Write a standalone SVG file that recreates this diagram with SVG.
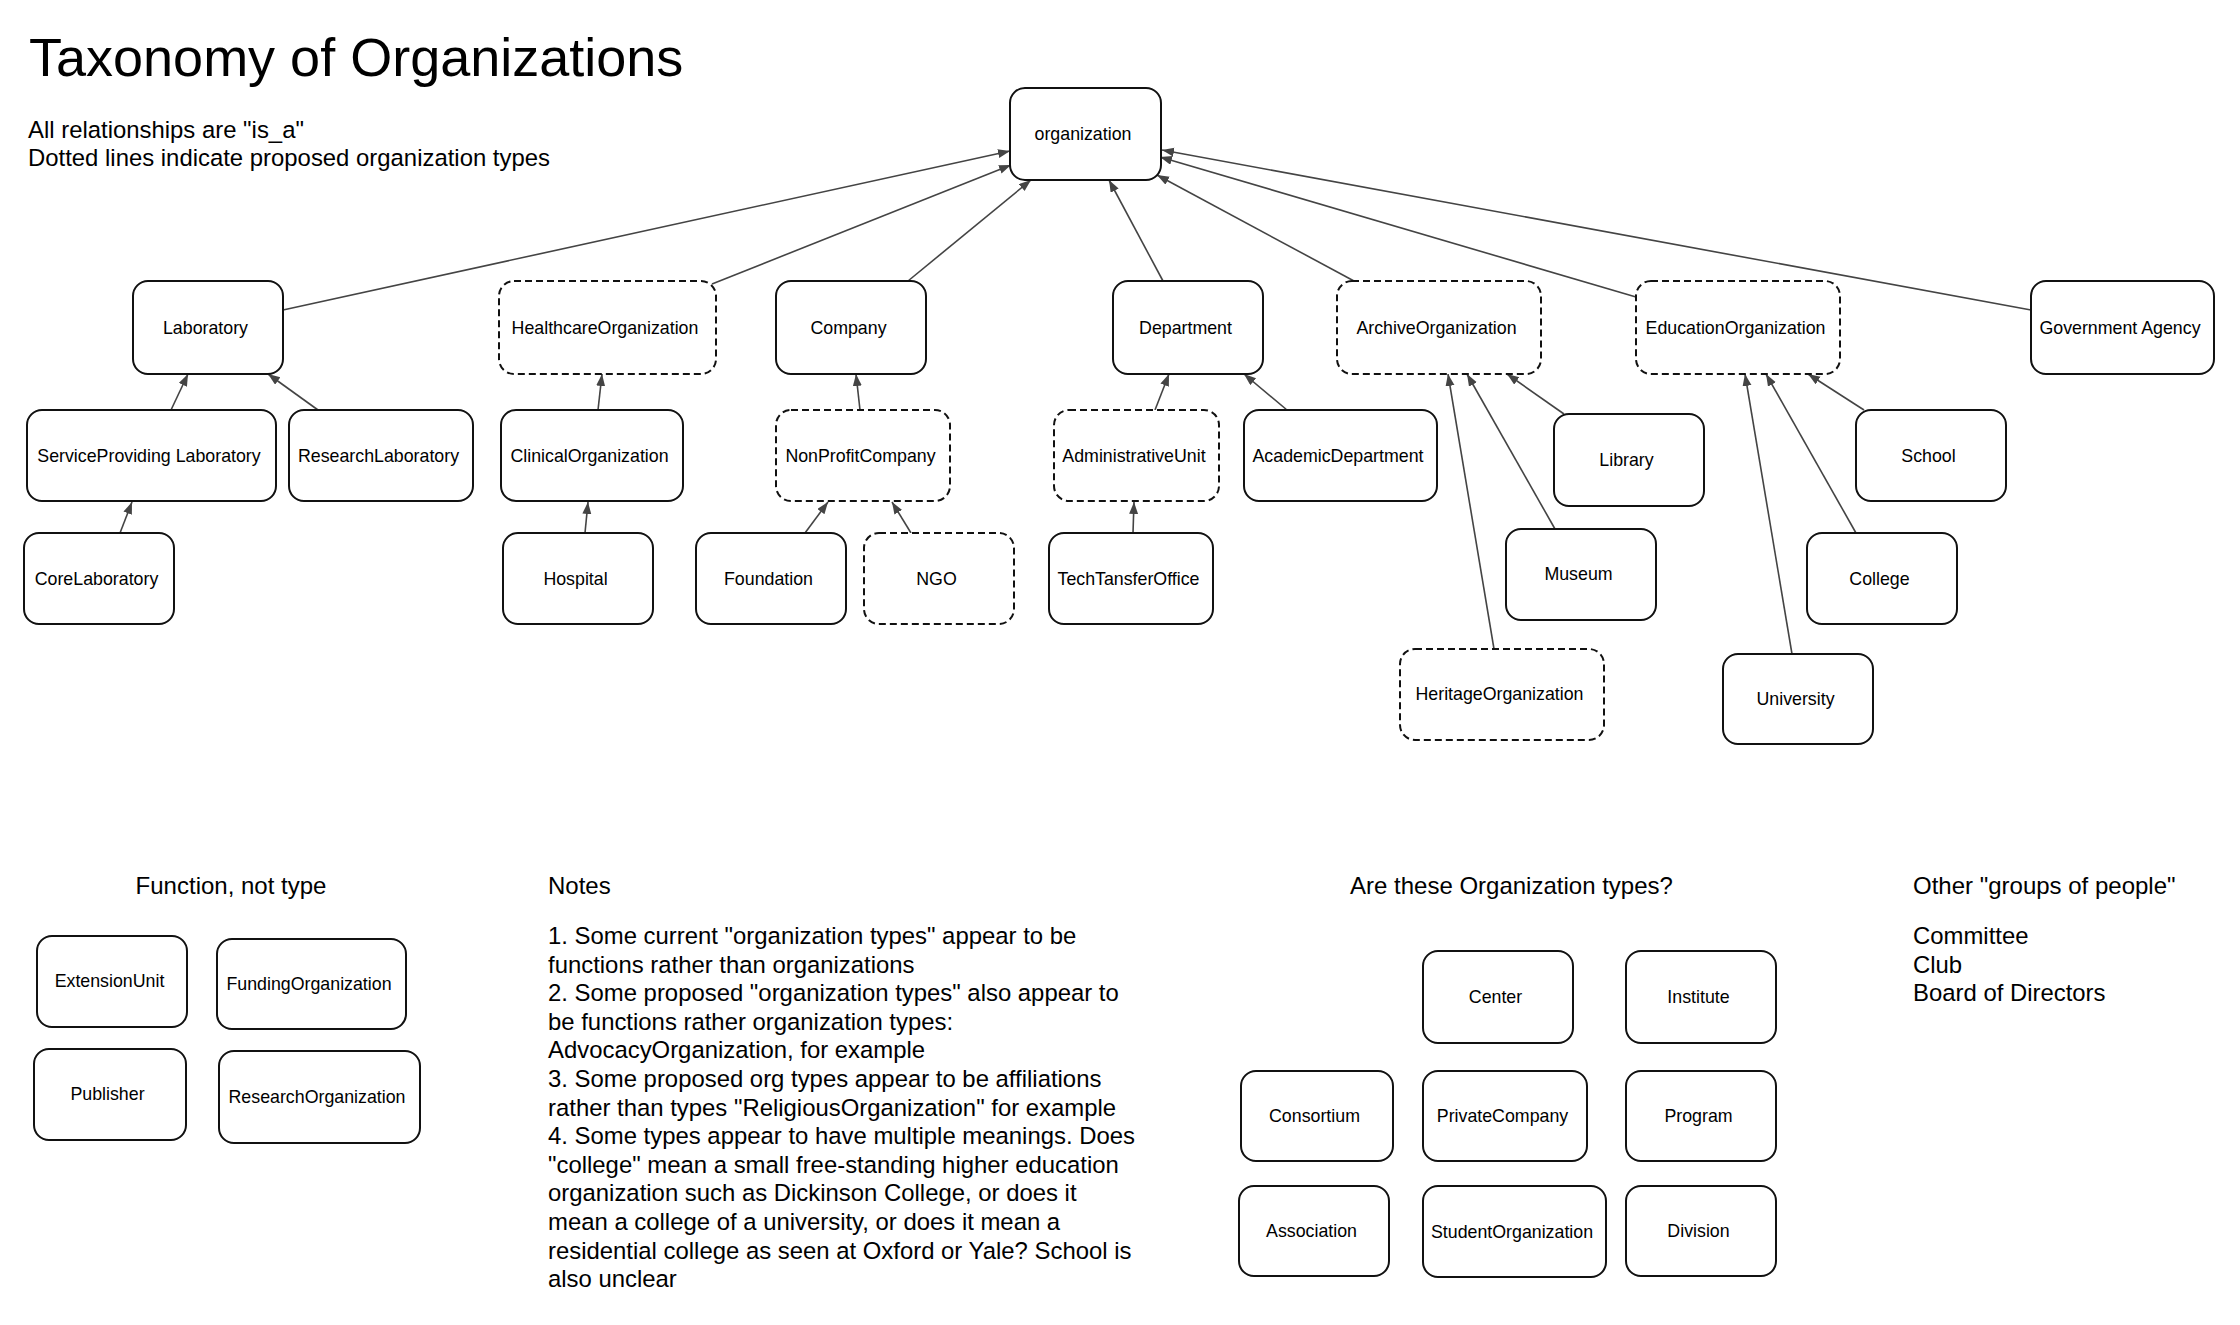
<svg xmlns="http://www.w3.org/2000/svg" width="2240" height="1325" viewBox="0 0 2240 1325">
<defs>
<marker id="arr" markerUnits="userSpaceOnUse" markerWidth="13" markerHeight="10" refX="12" refY="4.5" orient="auto">
<path d="M0,0 L12,4.5 L0,9 z" fill="#444"/>
</marker>
<style>
text{font-family:"Liberation Sans",Arial,sans-serif;fill:#000}
.n rect{fill:#fff;stroke:#111;stroke-width:2}
.d rect{stroke-dasharray:7 4}
.n text{font-size:17.8px;text-anchor:middle;transform:translate(-2.5px,0)}
.c line{stroke:#444;stroke-width:1.6;marker-end:url(#arr)}
.h{font-size:24px}
.t{font-size:23.9px}
</style>
</defs>
<rect width="2240" height="1325" fill="#fff"/>
<text x="29" y="76" style="font-size:54px">Taxonomy of Organizations</text>
<text class="t" x="28" y="137.5">All relationships are "is_a"</text>
<text class="t" x="28" y="166">Dotted lines indicate proposed organization types</text>

<g id="connectors" class="c">
<line x1="283" y1="310" x2="1010" y2="151"/>
<line x1="712" y1="284" x2="1011" y2="165"/>
<line x1="908" y1="281" x2="1031" y2="180"/>
<line x1="1163" y1="281" x2="1109" y2="180"/>
<line x1="1354" y1="281" x2="1157" y2="175"/>
<line x1="1636" y1="297" x2="1160" y2="157"/>
<line x1="2031" y1="310" x2="1162" y2="150"/>
<line x1="171" y1="410" x2="188" y2="374"/>
<line x1="318" y1="410" x2="268" y2="374"/>
<line x1="120" y1="533" x2="132" y2="502"/>
<line x1="598" y1="410" x2="602" y2="374"/>
<line x1="585" y1="533" x2="588" y2="502"/>
<line x1="860" y1="410" x2="856" y2="374"/>
<line x1="805" y1="533" x2="828" y2="502"/>
<line x1="911" y1="533" x2="892" y2="502"/>
<line x1="1155" y1="410" x2="1169" y2="374"/>
<line x1="1287" y1="410" x2="1244" y2="374"/>
<line x1="1133" y1="533" x2="1134" y2="502"/>
<line x1="1564" y1="414" x2="1507" y2="374"/>
<line x1="1555" y1="529" x2="1467" y2="374"/>
<line x1="1494" y1="649" x2="1448" y2="374"/>
<line x1="1864" y1="410" x2="1808" y2="374"/>
<line x1="1856" y1="533" x2="1766" y2="374"/>
<line x1="1792" y1="654" x2="1745" y2="374"/>
</g>

<g id="n-organization" class="n"><rect x="1010" y="88" width="151" height="92" rx="15"/><text x="1085.5" y="140">organization</text></g>
<g id="n-laboratory" class="n"><rect x="133" y="281" width="150" height="93" rx="15"/><text x="208" y="334">Laboratory</text></g>
<g id="n-healthcare" class="n d"><rect x="499" y="281" width="217" height="93" rx="15"/><text x="607.5" y="334">HealthcareOrganization</text></g>
<g id="n-company" class="n"><rect x="776" y="281" width="150" height="93" rx="15"/><text x="851" y="334">Company</text></g>
<g id="n-department" class="n"><rect x="1113" y="281" width="150" height="93" rx="15"/><text x="1188" y="334">Department</text></g>
<g id="n-archive" class="n d"><rect x="1337" y="281" width="204" height="93" rx="15"/><text x="1439" y="334">ArchiveOrganization</text></g>
<g id="n-education" class="n d"><rect x="1636" y="281" width="204" height="93" rx="15"/><text x="1738" y="334">EducationOrganization</text></g>
<g id="n-government" class="n"><rect x="2031" y="281" width="183" height="93" rx="15"/><text x="2122.5" y="334">Government Agency</text></g>

<g id="n-serviceproviding" class="n"><rect x="27" y="410" width="249" height="91" rx="15"/><text x="151.5" y="462">ServiceProviding Laboratory</text></g>
<g id="n-researchlab" class="n"><rect x="289" y="410" width="184" height="91" rx="15"/><text x="381" y="462">ResearchLaboratory</text></g>
<g id="n-clinical" class="n"><rect x="501" y="410" width="182" height="91" rx="15"/><text x="592" y="462">ClinicalOrganization</text></g>
<g id="n-nonprofit" class="n d"><rect x="776" y="410" width="174" height="91" rx="15"/><text x="863" y="462">NonProfitCompany</text></g>
<g id="n-adminunit" class="n d"><rect x="1054" y="410" width="165" height="91" rx="15"/><text x="1136.5" y="462">AdministrativeUnit</text></g>
<g id="n-academicdept" class="n"><rect x="1244" y="410" width="193" height="91" rx="15"/><text x="1340.5" y="462">AcademicDepartment</text></g>
<g id="n-library" class="n"><rect x="1554" y="414" width="150" height="92" rx="15"/><text x="1629" y="466">Library</text></g>
<g id="n-school" class="n"><rect x="1856" y="410" width="150" height="91" rx="15"/><text x="1931" y="462">School</text></g>

<g id="n-corelab" class="n"><rect x="24" y="533" width="150" height="91" rx="15"/><text x="99" y="585">CoreLaboratory</text></g>
<g id="n-hospital" class="n"><rect x="503" y="533" width="150" height="91" rx="15"/><text x="578" y="585">Hospital</text></g>
<g id="n-foundation" class="n"><rect x="696" y="533" width="150" height="91" rx="15"/><text x="771" y="585">Foundation</text></g>
<g id="n-ngo" class="n d"><rect x="864" y="533" width="150" height="91" rx="15"/><text x="939" y="585">NGO</text></g>
<g id="n-techtransfer" class="n"><rect x="1049" y="533" width="164" height="91" rx="15"/><text x="1131" y="585">TechTansferOffice</text></g>
<g id="n-museum" class="n"><rect x="1506" y="529" width="150" height="91" rx="15"/><text x="1581" y="580">Museum</text></g>
<g id="n-college" class="n"><rect x="1807" y="533" width="150" height="91" rx="15"/><text x="1882" y="585">College</text></g>
<g id="n-heritage" class="n d"><rect x="1400" y="649" width="204" height="91" rx="15"/><text x="1502" y="700">HeritageOrganization</text></g>
<g id="n-university" class="n"><rect x="1723" y="654" width="150" height="90" rx="15"/><text x="1798" y="705">University</text></g>

<text class="h" x="231" y="894" text-anchor="middle">Function, not type</text>
<g id="n-extensionunit" class="n"><rect x="37" y="936" width="150" height="91" rx="15"/><text x="112" y="987">ExtensionUnit</text></g>
<g id="n-funding" class="n"><rect x="217" y="939" width="189" height="90" rx="15"/><text x="311.5" y="990">FundingOrganization</text></g>
<g id="n-publisher" class="n"><rect x="34" y="1049" width="152" height="91" rx="15"/><text x="110" y="1100">Publisher</text></g>
<g id="n-researchorg" class="n"><rect x="219" y="1051" width="201" height="92" rx="15"/><text x="319.5" y="1103">ResearchOrganization</text></g>

<text class="h" x="548" y="894">Notes</text>
<text class="t">
<tspan x="548" y="944">1. Some current "organization types" appear to be</tspan>
<tspan x="548" y="972.6">functions rather than organizations</tspan>
<tspan x="548" y="1001.2">2. Some proposed "organization types" also appear to</tspan>
<tspan x="548" y="1029.8">be functions rather organization types:</tspan>
<tspan x="548" y="1058.4">AdvocacyOrganization, for example</tspan>
<tspan x="548" y="1087">3. Some proposed org types appear to be affiliations</tspan>
<tspan x="548" y="1115.6">rather than types "ReligiousOrganization" for example</tspan>
<tspan x="548" y="1144.2">4. Some types appear to have multiple meanings. Does</tspan>
<tspan x="548" y="1172.8">"college" mean a small free-standing higher education</tspan>
<tspan x="548" y="1201.4">organization such as Dickinson College, or does it</tspan>
<tspan x="548" y="1230">mean a college of a university, or does it mean a</tspan>
<tspan x="548" y="1258.6">residential college as seen at Oxford or Yale? School is</tspan>
<tspan x="548" y="1287.2">also unclear</tspan>
</text>

<text class="h" x="1350" y="894">Are these Organization types?</text>
<g id="n-center" class="n"><rect x="1423" y="951" width="150" height="92" rx="15"/><text x="1498" y="1003">Center</text></g>
<g id="n-institute" class="n"><rect x="1626" y="951" width="150" height="92" rx="15"/><text x="1701" y="1003">Institute</text></g>
<g id="n-consortium" class="n"><rect x="1241" y="1071" width="152" height="90" rx="15"/><text x="1317" y="1122">Consortium</text></g>
<g id="n-privatecompany" class="n"><rect x="1423" y="1071" width="164" height="90" rx="15"/><text x="1505" y="1122">PrivateCompany</text></g>
<g id="n-program" class="n"><rect x="1626" y="1071" width="150" height="90" rx="15"/><text x="1701" y="1122">Program</text></g>
<g id="n-association" class="n"><rect x="1239" y="1186" width="150" height="90" rx="15"/><text x="1314" y="1237">Association</text></g>
<g id="n-studentorg" class="n"><rect x="1423" y="1186" width="183" height="91" rx="15"/><text x="1514.5" y="1238">StudentOrganization</text></g>
<g id="n-division" class="n"><rect x="1626" y="1186" width="150" height="90" rx="15"/><text x="1701" y="1237">Division</text></g>

<text class="h" x="1913" y="894">Other "groups of people"</text>
<text class="t">
<tspan x="1913" y="944">Committee</tspan>
<tspan x="1913" y="972.6">Club</tspan>
<tspan x="1913" y="1001.2">Board of Directors</tspan>
</text>
</svg>
